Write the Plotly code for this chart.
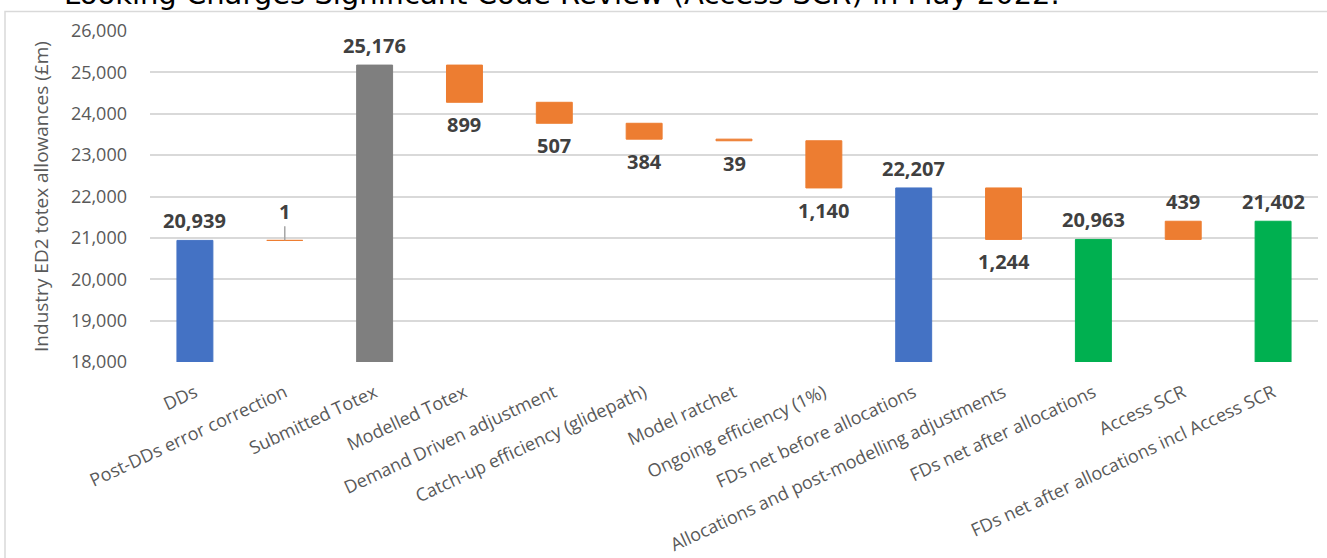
import plotly.graph_objects as go

# ---- data ----
categories = [
    "DDs", "Post-DDs error correction", "Submitted Totex", "Modelled Totex",
    "Demand Driven adjustment", "Catch-up efficiency (glidepath)", "Model ratchet",
    "Ongoing efficiency (1%)", "FDs net before allocations",
    "Allocations and post-modelling adjustments", "FDs net after allocations",
    "Access SCR", "FDs net after allocations incl Access SCR",
]
values = [20939, 1, 25176, -899, -507, -384, -39, -1140, 22207, -1244, 20963, 439, 21402]
is_total = [True, False, True, False, False, False, False, False, True, False, True, False, True]
total_colors = ["#4472C4", "#7F7F7F", "#4472C4", "#00B050", "#00B050"]
y_ticks = [18000, 19000, 20000, 21000, 22000, 23000, 24000, 25000, 26000]
title_text = "Looking Charges Significant Code Review (Access SCR) in May 2022."
y_title = "Industry ED2 totex allowances (£m)"

ORANGE = "#ED7D31"

# ---- compute waterfall geometry ----
bases, heights, colors = [], [], []
running = 0
ti = 0
for v, tot in zip(values, is_total):
    if tot:
        bases.append(0)
        heights.append(v)
        colors.append(total_colors[ti])
        ti += 1
        running = v
    else:
        new = running + v
        bases.append(min(running, new))
        heights.append(abs(v))
        colors.append(ORANGE)
        running = new

fig = go.Figure()
fig.add_trace(go.Bar(
    x=categories, y=heights, base=bases, width=0.4,
    marker=dict(color=colors, line=dict(color=colors, width=1)),
    hoverinfo="skip", showlegend=False,
))

label_font = dict(family="Open Sans", size=20, color="#404040", weight="bold")
annotations = []
for c, v, tot, b, h in zip(categories, values, is_total, bases, heights):
    txt = f"{abs(v):,}"
    if tot or v > 0:
        if not tot and abs(v) < 10:
            annotations.append(dict(
                x=c, y=b + h, text=txt, showarrow=True, arrowhead=0,
                arrowcolor="#A6A6A6", arrowwidth=1.5, ax=0, ay=-29,
                font=label_font,
            ))
        else:
            annotations.append(dict(
                x=c, y=b + h, text=txt, showarrow=False,
                yanchor="bottom", yshift=4, font=label_font,
            ))
    else:
        annotations.append(dict(
            x=c, y=b, text=txt, showarrow=False,
            yanchor="top", yshift=-7, font=label_font,
        ))

L, R, T, B = 150, 9, 31, 196
W, H = 1327, 558
pw, ph = W - L - R, H - T - B

def px_x(p):
    return (p - L) / pw

def px_y(p):
    return (H - B - p) / ph

annotations.append(dict(
    xref="paper", yref="paper", x=px_x(62), y=px_y(13), xanchor="left",
    yanchor="bottom", text=title_text, showarrow=False,
    font=dict(family="DejaVu Sans", size=29, color="#000000"),
))

fig.update_layout(
    width=W, height=H,
    margin=dict(l=L, r=R, t=T, b=B, pad=0, autoexpand=False),
    paper_bgcolor="white", plot_bgcolor="white",
    bargap=0.6,
    annotations=annotations,
    shapes=[dict(
        type="rect", xref="paper", yref="paper",
        x0=px_x(5), x1=px_x(1335), y0=px_y(700), y1=px_y(11.5),
        line=dict(color="#D9D9D9", width=1.5), fillcolor="rgba(0,0,0,0)",
        layer="below",
    )],
    xaxis=dict(
        tickangle=-25, tickfont=dict(family="Open Sans", size=18, color="#595959"),
        showline=False, showgrid=False, zeroline=False,
        ticklabelstandoff=16, automargin=False,
    ),
    yaxis=dict(
        range=[18000, 26000], tickvals=y_ticks, tickformat=",",
        tickfont=dict(family="Open Sans", size=18, color="#595959"),
        gridcolor="#D9D9D9", gridwidth=1.5, zeroline=False, showline=False,
        ticklabelstandoff=22, automargin=False,
        title=dict(text=y_title, font=dict(family="Open Sans", size=19, color="#595959"), standoff=17),
    ),
    font=dict(family="Open Sans"),
)

fig.write_html("out.html")
